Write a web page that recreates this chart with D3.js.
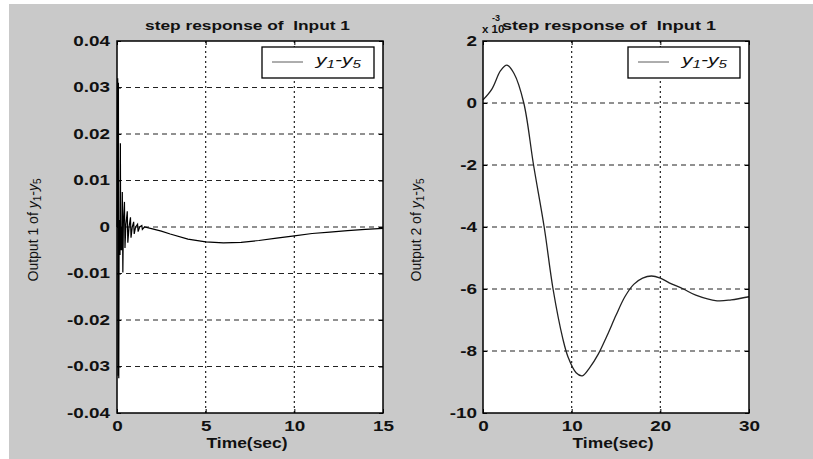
<!DOCTYPE html>
<html><head><meta charset="utf-8">
<script src="https://cdn.jsdelivr.net/npm/d3@7"></script>
<style>body{margin:0;background:#fff}svg{display:block}</style>
</head><body>
<svg id="c" width="813" height="459"></svg>
<script>
// ---- data (left: Output 1, right: Output 2 in units of 1e-3) ----
const leftTime = [0,0.04,0.06,0.08,0.10,0.12,0.13,0.15,0.17,0.19,0.21,0.24,0.27,0.30,0.33,0.36,0.42,0.45,0.50,0.58,0.61,0.68,0.76,0.79,0.86,0.94,0.97,1.05,1.16,1.19,1.28,1.40,1.43,1.55,2.0,2.5,3,4,5,6,7,8,9,10,11,12,13,14,15];
const leftValue = [0,0.032,-0.032,0.031,-0.0325,0.0,-0.006,0.0015,-0.006,0.018,-0.005,0.0,-0.005,0.0075,-0.0098,0.001,0.0054,-0.0045,0.0005,0.0034,-0.0034,0.0,0.0021,-0.0023,0.0,0.0011,-0.0015,0.0,0.0006,-0.001,0.0,0.0003,-0.0005,0.0,-0.0004,-0.0009,-0.0015,-0.0026,-0.0032,-0.0034,-0.0033,-0.0029,-0.0024,-0.0019,-0.0014,-0.0011,-0.0008,-0.0005,-0.0003];
const rightTime = [0,1,2,2.7,3.5,4.6,5.7,6.9,7.9,9,9.6,10.5,11.2,12,13,14,15,16,17,18,19,20,21,22.6,24,26.4,28,30];
const rightValue = [0.1,0.45,1.05,1.22,0.95,0,-2,-4,-6,-7.6,-8.2,-8.7,-8.8,-8.55,-8.1,-7.5,-6.85,-6.25,-5.85,-5.65,-5.58,-5.65,-5.8,-6.0,-6.2,-6.38,-6.35,-6.25];
const leftXTicks = [0,5,10,15];
const leftYTicks = [-0.04,-0.03,-0.02,-0.01,0,0.01,0.02,0.03,0.04];
const rightXTicks = [0,10,20,30];
const rightYTicks = [-10,-8,-6,-4,-2,0,2];
const titleText = "step response of  Input 1";
const xLabelText = "Time(sec)";

const FONT = "'Liberation Sans', Arial, sans-serif";
const SX = 1.35;
const svg = d3.select("#c");
svg.append("rect").attr("x",9).attr("y",4).attr("width",804).attr("height",455).attr("fill","#c9c9c9");

function stretchText(sel, sx){
  sel.each(function(){
    const t = d3.select(this);
    const x = +t.attr("x")||0, y = +t.attr("y")||0;
    t.attr("transform", `translate(${x},${y}) scale(${sx},1)`).attr("x",0).attr("y",0);
  });
}

function panel(o){
  const x = d3.scaleLinear().domain(o.xDomain).range([o.x0,o.x1]);
  const y = d3.scaleLinear().domain(o.yDomain).range([o.y1,o.y0]);
  const g = svg.append("g");
  g.append("rect").attr("x",o.x0).attr("y",o.y0).attr("width",o.x1-o.x0).attr("height",o.y1-o.y0).attr("fill","#fff");
  // grid
  g.selectAll(".hg").data(o.yTicks.filter(v=>v>o.yDomain[0]&&v<o.yDomain[1])).enter().append("line")
    .attr("x1",o.x0).attr("x2",o.x1).attr("y1",d=>y(d)).attr("y2",d=>y(d))
    .attr("stroke","#222").attr("stroke-width",1).attr("stroke-dasharray","5,4");
  g.selectAll(".vg").data(o.xTicks.filter(v=>v>o.xDomain[0]&&v<o.xDomain[1])).enter().append("line")
    .attr("x1",d=>x(d)).attr("x2",d=>x(d)).attr("y1",o.y0).attr("y2",o.y1)
    .attr("stroke","#222").attr("stroke-width",1.2).attr("stroke-dasharray","2,3");
  // data
  g.append("path").datum(d3.zip(o.t,o.v))
    .attr("d", d3.line().x(d=>x(d[0])).y(d=>y(d[1])).curve(o.curve))
    .attr("fill","none").attr("stroke",o.color).attr("stroke-width",o.width);
  // axes
  const ax = (gen, tr) => g.append("g").attr("transform",tr).call(gen);
  const yl = ax(d3.axisLeft(y).tickValues(o.yTicks).tickSize(-4).tickPadding(o.ypad).tickFormat(o.yFmt), `translate(${o.x0},0)`);
  const xb = ax(d3.axisBottom(x).tickValues(o.xTicks).tickSize(-4).tickPadding(8).tickFormat(d=>String(d)), `translate(0,${o.y1})`);
  const yr = ax(d3.axisRight(y).tickValues(o.yTicks).tickSize(-4).tickFormat(""), `translate(${o.x1},0)`);
  const xt = ax(d3.axisTop(x).tickValues(o.xTicks).tickSize(-4).tickFormat(""), `translate(0,${o.y0})`);
  [yl,xb,yr,xt].forEach(a=>{a.select(".domain").remove(); a.selectAll("line").attr("stroke","#000");});
  [yl,xb].forEach(a=>{
    a.selectAll("text").attr("font-family",FONT).attr("font-weight","bold").attr("font-size",14).attr("fill","#111");
    stretchText(a.selectAll("text"), SX);
  });
  // frame
  g.append("rect").attr("x",o.x0).attr("y",o.y0).attr("width",o.x1-o.x0).attr("height",o.y1-o.y0)
    .attr("fill","none").attr("stroke","#000").attr("stroke-width",1.5);
  // title
  g.append("text").attr("x",o.titleX).attr("y",29.5).attr("text-anchor","middle")
    .attr("font-family",FONT).attr("font-weight","bold").attr("font-size",13.5).attr("fill","#111")
    .style("white-space","pre")
    .attr("textLength",o.titleW).attr("lengthAdjust","spacingAndGlyphs").text(titleText);
  // x label
  g.append("text").attr("x",(o.x0+o.x1)/2-3).attr("y",448).attr("text-anchor","middle")
    .attr("font-family",FONT).attr("font-weight","bold").attr("font-size",14).attr("fill","#111")
    .attr("textLength",81).attr("lengthAdjust","spacingAndGlyphs").text(xLabelText);
  // y label
  const yt = g.append("text").attr("transform",`translate(${o.ylabX},230) rotate(-90)`).attr("text-anchor","middle")
    .attr("font-family",FONT).attr("font-size",14).attr("fill","#111");
  yt.append("tspan").text(`Output ${o.outN} of `);
  yt.append("tspan").attr("font-style","italic").text("y");
  yt.append("tspan").attr("font-size",10).attr("dy",3).text("1");
  yt.append("tspan").attr("dy",-3).text("-");
  yt.append("tspan").attr("font-style","italic").text("y");
  yt.append("tspan").attr("font-size",10).attr("dy",3).text("5");
  // legend
  const lx0 = o.x1-121, lx1 = o.x1-9;
  g.append("rect").attr("x",lx0).attr("y",47).attr("width",lx1-lx0).attr("height",31)
    .attr("fill","#fff").attr("stroke","#000").attr("stroke-width",1.3);
  g.append("line").attr("x1",lx0+10).attr("x2",lx0+41).attr("y1",62).attr("y2",62)
    .attr("stroke","#333").attr("stroke-width",0.8);
  const lt = g.append("text").attr("x",lx0+54).attr("y",65).attr("font-family",FONT)
    .attr("font-size",14).attr("font-style","italic").attr("fill","#111")
    .attr("textLength",45).attr("lengthAdjust","spacingAndGlyphs");
  lt.append("tspan").text("y");
  lt.append("tspan").attr("font-size",10).attr("dy",3).text("1");
  lt.append("tspan").attr("dy",-3).text("-y");
  lt.append("tspan").attr("font-size",10).attr("dy",3).text("5");
  return g;
}

panel({x0:117,x1:383,y0:41,y1:413,xDomain:[0,15],yDomain:[-0.04,0.04],xTicks:leftXTicks,yTicks:leftYTicks,
  t:leftTime,v:leftValue,curve:d3.curveLinear,color:"#000",width:1.2,ypad:7,
  yFmt:d=>d===0?"0":d.toFixed(2),titleX:247.5,titleW:205,ylabX:38,outN:1});
const rp = panel({x0:483,x1:749,y0:41,y1:413,xDomain:[0,30],yDomain:[-10,2],xTicks:rightXTicks,yTicks:rightYTicks,
  t:rightTime,v:rightValue,curve:d3.curveCatmullRom,color:"#222",width:1.3,ypad:6,
  yFmt:d=>String(d),titleX:609,titleW:214,ylabX:421,outN:2});
// exponent label
rp.append("text").attr("x",482).attr("y",33).attr("font-family",FONT).attr("font-weight","bold")
  .attr("font-size",11.5).attr("fill","#111").text("x 10");
rp.append("text").attr("x",492).attr("y",21).attr("font-family",FONT).attr("font-weight","bold")
  .attr("font-size",9).attr("fill","#111").text("-3");
</script>
</body></html>
